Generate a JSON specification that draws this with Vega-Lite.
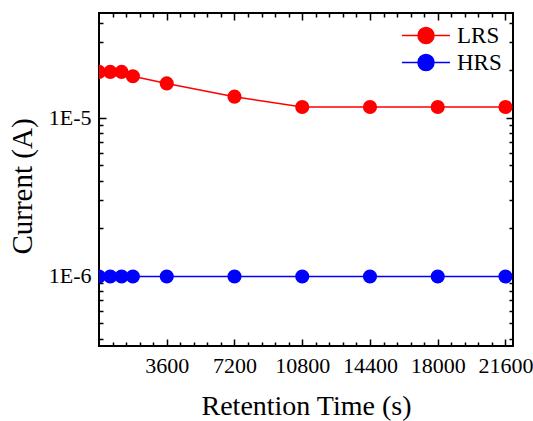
{
  "$schema": "https://vega.github.io/schema/vega-lite/v6.json",
  "width": 414,
  "height": 333,
  "autosize": {"type": "none"},
  "padding": {"left": 99, "top": 13, "right": 20, "bottom": 75},
  "background": "white",
  "config": {
    "font": "Liberation Serif",
    "view": {"stroke": "black", "strokeWidth": 2},
    "axis": {
      "domain": false,
      "grid": false,
      "labelFont": "Liberation Serif",
      "titleFont": "Liberation Serif",
      "labelColor": "black",
      "titleColor": "black",
      "tickColor": "black",
      "tickWidth": 1.5,
      "labelFontSize": 22,
      "titleFontSize": 28,
      "titleFontWeight": "normal"
    },
    "legend": {
      "labelFont": "Liberation Serif",
      "labelFontSize": 23,
      "labelColor": "black"
    }
  },
  "datasets": {
    "retention": [
      {"time": 0, "current": 1.95e-5, "state": "LRS"},
      {"time": 600, "current": 1.95e-5, "state": "LRS"},
      {"time": 1200, "current": 1.95e-5, "state": "LRS"},
      {"time": 1800, "current": 1.83e-5, "state": "LRS"},
      {"time": 3600, "current": 1.65e-5, "state": "LRS"},
      {"time": 7200, "current": 1.36e-5, "state": "LRS"},
      {"time": 10800, "current": 1.17e-5, "state": "LRS"},
      {"time": 14400, "current": 1.17e-5, "state": "LRS"},
      {"time": 18000, "current": 1.17e-5, "state": "LRS"},
      {"time": 21600, "current": 1.17e-5, "state": "LRS"},
      {"time": 0, "current": 9.9e-7, "state": "HRS"},
      {"time": 600, "current": 9.9e-7, "state": "HRS"},
      {"time": 1200, "current": 9.9e-7, "state": "HRS"},
      {"time": 1800, "current": 9.9e-7, "state": "HRS"},
      {"time": 3600, "current": 9.9e-7, "state": "HRS"},
      {"time": 7200, "current": 9.9e-7, "state": "HRS"},
      {"time": 10800, "current": 9.9e-7, "state": "HRS"},
      {"time": 14400, "current": 9.9e-7, "state": "HRS"},
      {"time": 18000, "current": 9.9e-7, "state": "HRS"},
      {"time": 21600, "current": 9.9e-7, "state": "HRS"}
    ]
  },
  "data": {"name": "retention"},
  "layer": [
    {
      "mark": {"type": "line", "strokeWidth": 1.5, "clip": true},
      "encoding": {
        "x": {
          "field": "time", "type": "quantitative",
          "scale": {"domain": [0, 22000], "nice": false, "zero": false},
          "axis": {
            "orient": "bottom",
            "title": "Retention Time (s)",
            "values": [3600, 7200, 10800, 14400, 18000, 21600],
            "format": "d",
            "tickSize": -7,
            "labelPadding": 16,
            "titleBaseline": "alphabetic",
            "titleY": 68
          }
        },
        "y": {
          "field": "current", "type": "quantitative",
          "scale": {"type": "log", "domain": [3.6e-7, 4.6e-5], "nice": false},
          "axis": {
            "orient": "left",
            "title": "Current (A)",
            "titleFontSize": 29,
            "values": [1e-6, 1e-5],
            "labelExpr": "datum.value < 5e-6 ? '1E-6' : '1E-5'",
            "tickSize": -7,
            "labelPadding": 15,
            "titleBaseline": "alphabetic",
            "titleX": -68,
            "titleY": 173
          }
        },
        "color": {
          "field": "state", "type": "nominal",
          "scale": {"domain": ["LRS", "HRS"], "range": ["#ff0000", "#0000ff"]},
          "legend": {
            "title": null,
            "orient": "none",
            "legendX": 302,
            "legendY": 9,
            "symbolType": "M-1,0L1,0M0.333,0A0.333,0.333,0,1,1,-0.333,0A0.333,0.333,0,1,1,0.333,0Z",
            "symbolSize": 2304,
            "symbolStrokeWidth": 1.5,
            "labelOffset": 6,
            "clipHeight": 27,
            "rowPadding": 0
          }
        }
      }
    },
    {
      "mark": {"type": "point", "filled": true, "opacity": 1, "size": 200, "clip": true},
      "encoding": {
        "x": {
          "field": "time", "type": "quantitative",
          "scale": {"domain": [0, 22000], "nice": false, "zero": false},
          "axis": {
            "orient": "top", "title": null, "labels": false,
            "values": [3600, 7200, 10800, 14400, 18000, 21600],
            "tickSize": -7
          }
        },
        "y": {
          "field": "current", "type": "quantitative",
          "scale": {"type": "log", "domain": [3.6e-7, 4.6e-5], "nice": false},
          "axis": {
            "orient": "right", "title": null, "labels": false,
            "values": [1e-6, 1e-5],
            "tickSize": -7
          }
        },
        "color": {
          "field": "state", "type": "nominal",
          "scale": {"domain": ["LRS", "HRS"], "range": ["#ff0000", "#0000ff"]},
          "legend": {
            "title": null,
            "orient": "none",
            "legendX": 302,
            "legendY": 9,
            "symbolType": "M-1,0L1,0M0.333,0A0.333,0.333,0,1,1,-0.333,0A0.333,0.333,0,1,1,0.333,0Z",
            "symbolSize": 2304,
            "symbolStrokeWidth": 1.5,
            "labelOffset": 6,
            "clipHeight": 27,
            "rowPadding": 0
          }
        }
      }
    },
    {
      "mark": {"type": "point", "opacity": 0},
      "encoding": {
        "x": {
          "field": "time", "type": "quantitative",
          "scale": {"domain": [0, 22000], "nice": false, "zero": false},
          "axis": {
            "orient": "bottom", "title": null, "labels": false,
            "values": [720, 1440, 2160, 2880, 4320, 5040, 5760, 6480, 7920, 8640, 9360, 10080, 11520, 12240, 12960, 13680, 15120, 15840, 16560, 17280, 18720, 19440, 20160, 20880],
            "tickSize": -4
          }
        },
        "y": {
          "field": "current", "type": "quantitative",
          "scale": {"type": "log", "domain": [3.6e-7, 4.6e-5], "nice": false},
          "axis": {
            "orient": "left", "title": null, "labels": false,
            "values": [4e-7, 5e-7, 6e-7, 7e-7, 8e-7, 9e-7, 2e-6, 3e-6, 4e-6, 5e-6, 6e-6, 7e-6, 8e-6, 9e-6, 2e-5, 3e-5, 4e-5],
            "tickSize": -4
          }
        }
      }
    },
    {
      "mark": {"type": "point", "opacity": 0},
      "encoding": {
        "x": {
          "field": "time", "type": "quantitative",
          "scale": {"domain": [0, 22000], "nice": false, "zero": false},
          "axis": {
            "orient": "top", "title": null, "labels": false,
            "values": [720, 1440, 2160, 2880, 4320, 5040, 5760, 6480, 7920, 8640, 9360, 10080, 11520, 12240, 12960, 13680, 15120, 15840, 16560, 17280, 18720, 19440, 20160, 20880],
            "tickSize": -4
          }
        },
        "y": {
          "field": "current", "type": "quantitative",
          "scale": {"type": "log", "domain": [3.6e-7, 4.6e-5], "nice": false},
          "axis": {
            "orient": "right", "title": null, "labels": false,
            "values": [4e-7, 5e-7, 6e-7, 7e-7, 8e-7, 9e-7, 2e-6, 3e-6, 4e-6, 5e-6, 6e-6, 7e-6, 8e-6, 9e-6, 2e-5, 3e-5, 4e-5],
            "tickSize": -4
          }
        }
      }
    }
  ],
  "resolve": {
    "axis": {"x": "independent", "y": "independent"}
  }
}
